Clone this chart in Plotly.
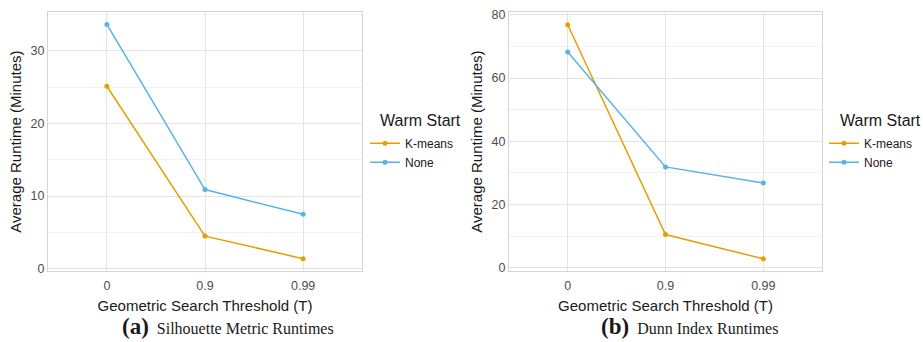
import plotly.graph_objects as go

thresholds = ["0", "0.9", "0.99"]
sil_kmeans = [25.1, 4.5, 1.4]
sil_none = [33.6, 10.9, 7.5]
dunn_kmeans = [76.9, 10.5, 2.8]
dunn_none = [68.3, 31.9, 26.8]
series_names = ["K-means", "None"]
colors = ["#E69F00", "#56B4E9"]

W, H = 923, 342
fig = go.Figure()

panels = [
    (sil_kmeans, sil_none, "x", "y", "legend"),
    (dunn_kmeans, dunn_none, "x2", "y2", "legend2"),
]
for km, nn, xa, ya, lg in panels:
    for name, vals, col in zip(series_names, [km, nn], colors):
        fig.add_trace(go.Scatter(
            x=thresholds, y=vals, name=name, mode="lines+markers",
            line=dict(color=col, width=1.5), marker=dict(color=col, size=5),
            xaxis=xa, yaxis=ya, legend=lg, showlegend=True))

def px_x(p):
    return p / W

def px_y(p):
    return 1 - p / H

grid = "#e4e4e4"
minor_grid = "#f1f1f1"
border = "#d4d4d4"
sans = "Liberation Sans, Arial"
tick_font = dict(family=sans, size=12.5, color="#4d4d4d")
title_font = dict(family=sans, size=15, color="#1a1a1a")

common_x = dict(type="category", range=[-0.6, 2.6], showgrid=True, gridcolor=grid,
                gridwidth=1, zeroline=False, showline=True, linecolor=border, mirror=True,
                ticks="", tickfont=tick_font, ticklabelstandoff=3,
                title=dict(text="Geometric Search Threshold (T)", font=title_font, standoff=8))
common_y = dict(showgrid=True, gridcolor=grid, gridwidth=1, zeroline=False, showline=True,
                linecolor=border, mirror=True, ticks="", tickfont=tick_font,
                title=dict(text="Average Runtime (Minutes)", font=title_font, standoff=5))

fig.update_layout(
    width=W, height=H, margin=dict(l=0, r=0, t=0, b=0),
    paper_bgcolor="white", plot_bgcolor="white",
    xaxis=dict(common_x, domain=[px_x(48), px_x(362)], anchor="y"),
    yaxis=dict(common_y, domain=[px_y(274.4), px_y(8.3)], anchor="x",
               range=[-0.32, 35.3], tickvals=[0, 10, 20, 30],
               minor=dict(tickvals=[5, 15, 25, 35], showgrid=True, gridcolor=minor_grid, ticks="")),
    xaxis2=dict(common_x, domain=[px_x(509), px_x(822)], anchor="y2"),
    yaxis2=dict(common_y, domain=[px_y(274.4), px_y(8.3)], anchor="x2",
                range=[-1.1, 80.9], tickvals=[0, 20, 40, 60, 80],
                minor=dict(tickvals=[10, 30, 50, 70], showgrid=True, gridcolor=minor_grid, ticks="")),
    legend=dict(x=px_x(365), y=px_y(128), xanchor="left", yanchor="top",
                font=dict(family=sans, size=12, color="#1a1a1a"),
                bgcolor="rgba(0,0,0,0)", itemwidth=30, tracegroupgap=0),
    legend2=dict(x=px_x(824), y=px_y(128), xanchor="left", yanchor="top",
                 font=dict(family=sans, size=12, color="#1a1a1a"),
                 bgcolor="rgba(0,0,0,0)", itemwidth=30, tracegroupgap=0),
    showlegend=True,
)

for lx in (378, 838):
    fig.add_annotation(x=px_x(lx), y=px_y(120), xref="paper", yref="paper", showarrow=False,
                       text="Warm Start", font=dict(family=sans, size=16, color="#1a1a1a"),
                       xanchor="left", yanchor="middle")

serif = "Liberation Serif, Times New Roman, serif"
fig.add_annotation(x=px_x(228), y=0, xref="paper", yref="paper", showarrow=False,
                   text="<b><span style='font-size:23px'>(a)</span></b>&nbsp; Silhouette Metric Runtimes",
                   font=dict(family=serif, size=16, color="#1a1a1a"), xanchor="center", yanchor="bottom",
                   yshift=-4)
fig.add_annotation(x=px_x(689), y=0, xref="paper", yref="paper", showarrow=False,
                   text="<b><span style='font-size:23px'>(b)</span></b>&nbsp; Dunn Index Runtimes",
                   font=dict(family=serif, size=16, color="#1a1a1a"), xanchor="center", yanchor="bottom",
                   yshift=-4)

fig.write_html("out.html")
